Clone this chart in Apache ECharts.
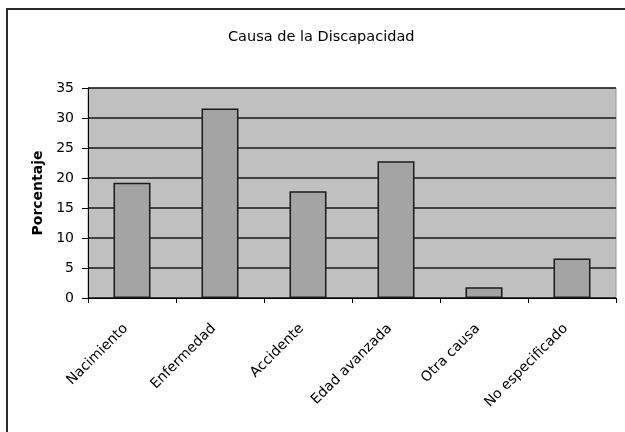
<!DOCTYPE html>
<html>
<head>
<meta charset="utf-8">
<script src="https://cdn.jsdelivr.net/npm/echarts@6/dist/echarts.min.js"></script>
<style>html,body{margin:0;padding:0;background:#fff}#c{width:625px;height:432px}</style>
</head>
<body>
<div id="c"></div>
<script>
var categories = ["Nacimiento", "Enfermedad", "Accidente", "Edad avanzada", "Otra causa", "No especificado"];
var values = [19.2, 31.6, 17.8, 22.8, 1.8, 6.6];
var titleText = "Causa de la Discapacidad";
var yName = "Porcentaje";

var FONT = 'DejaVu Sans';
var chart = echarts.init(document.getElementById('c'), null, {renderer: 'canvas'});
chart.setOption({
  animation: false,
  backgroundColor: '#ffffff',
  title: {
    text: titleText, left: 223, top: 25,
    textStyle: {fontFamily: FONT, fontSize: 14.5, fontWeight: 'normal', color: '#000'}
  },
  graphic: [{
    type: 'rect', shape: {x: 7, y: 9, width: 800, height: 600},
    style: {fill: null, stroke: '#2a2a2a', lineWidth: 2}, z: 100, silent: true
  }],
  grid: {left: 88, right: 9, top: 88, bottom: 134, show: true, backgroundColor: '#c0c0c0', borderColor: '#9a9a9a', borderWidth: 1},
  xAxis: {
    type: 'category', data: categories, boundaryGap: true,
    axisLine: {lineStyle: {color: '#000', width: 1}},
    axisTick: {show: true, alignWithLabel: false, length: 5, lineStyle: {color: '#000'}},
    axisLabel: {rotate: 45, interval: 0, margin: 22, padding: [0, 9, 0, 0], fontFamily: FONT, fontSize: 14, color: '#000'}
  },
  yAxis: {
    type: 'value', min: 0, max: 35, interval: 5,
    name: yName, nameLocation: 'middle', nameGap: 43,
    nameTextStyle: {fontFamily: FONT, fontSize: 14, fontWeight: 'bold', color: '#000'},
    axisLine: {show: true, lineStyle: {color: '#000', width: 1}},
    axisTick: {show: true, length: 6, lineStyle: {color: '#000'}},
    axisLabel: {margin: 14, fontFamily: FONT, fontSize: 14, color: '#000'},
    splitLine: {show: true, lineStyle: {color: '#1a1a1a', width: 1.5}}
  },
  series: [{
    type: 'bar', data: values, barWidth: '42%',
    itemStyle: {color: '#a4a4a4', borderColor: '#1a1a1a', borderWidth: 1.5}
  }]
});
</script>
</body>
</html>
